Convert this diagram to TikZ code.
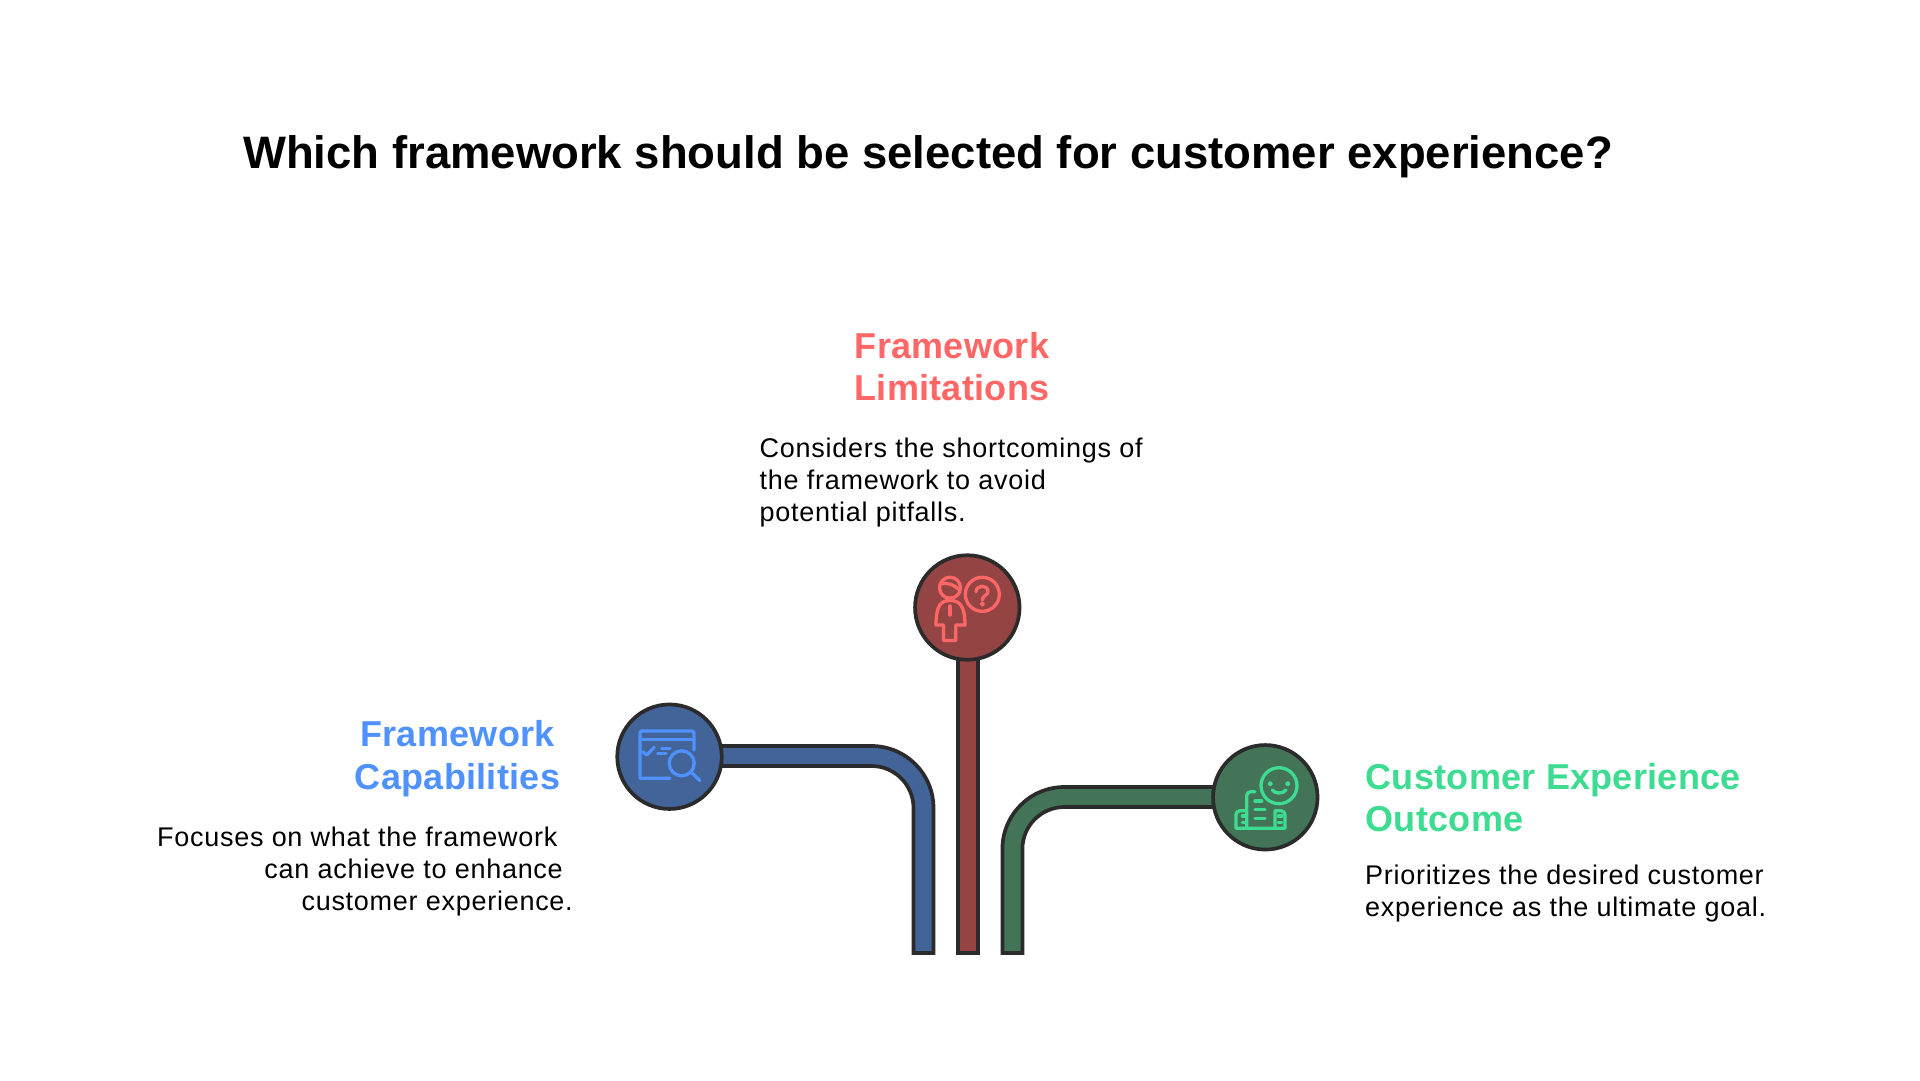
\documentclass[tikz,border=0pt]{standalone}
\usepackage{fontspec}
\setmainfont{Liberation Sans}
\definecolor{ink}{HTML}{2B2B2B}
\definecolor{bluefill}{HTML}{426499}
\definecolor{bluetxt}{HTML}{4F92FF}
\definecolor{redfill}{HTML}{944543}
\definecolor{redtxt}{HTML}{FF6666}
\definecolor{greenfill}{HTML}{437458}
\definecolor{greentxt}{HTML}{3DDC91}
\newfontfamily\spacedbody[LetterSpace=2.7]{Liberation Sans}
\newfontfamily\spacedhead[LetterSpace=0.8]{Liberation Sans Bold}
\newfontfamily\titlefont{Liberation Sans Bold}
\tikzset{
  x=1pt,y=-1pt,
  pipe/.style={line width=3.7pt,draw=ink,line join=miter},
  disc/.style={circle,draw=ink,line width=3.7pt,minimum size=104.5pt,inner sep=0pt},
  icon/.style={line width=3.3pt,line cap=round,line join=round},
  head/.style={font=\fontsize{36}{42.5}\selectfont\spacedhead,inner sep=0pt},
  body/.style={font=\fontsize{27}{32}\selectfont\spacedbody,inner sep=0pt,text=black},
  title/.style={font=\fontsize{45.48}{54}\selectfont\titlefont,inner sep=0pt,text=black}
}
\begin{document}
\begin{tikzpicture}
\useasboundingbox (0,0) rectangle (1920,1080);
\fill[white] (0,0) rectangle (1920,1080);
\node[title,anchor=base west] (ttl) at (243,168) {Which framework should be selected for customer experience?};
% pipes
\path[pipe,fill=bluefill] (669,746) -- (871.5,746) arc[start angle=-90,end angle=0,radius=62] -- (933.5,953) -- (913.5,953) -- (913.5,808) arc[start angle=0,end angle=-90,radius=42] -- (669,766);
\path[pipe,fill=redfill] (958,607) -- (958,953) -- (978,953) -- (978,607);
\path[pipe,fill=greenfill] (1265,787) -- (1064.4,787) arc[start angle=-90,end angle=-180,radius=62] -- (1002.4,953) -- (1022.4,953) -- (1022.4,849) arc[start angle=180,end angle=270,radius=42] -- (1265,807);
% discs
\node[disc,fill=bluefill] (blued) at (669.5,756.7) {};
\node[disc,fill=redfill] (redd) at (967.3,607.5) {};
\node[disc,fill=greenfill] (greend) at (1265.3,797.3) {};
% blue icon
\begin{scope}[icon,draw=bluetxt]
\draw (670,778.3) -- (640,778.3) -- (640,733) arc[start angle=180,end angle=270,radius=2] -- (692,731) arc[start angle=-90,end angle=0,radius=2] -- (694,750);
\draw (640,739.8) -- (694,739.8);
\draw (642.7,751.7) -- (646.7,755) -- (654.3,747.3);
\draw (661.7,748.3) -- (670,748.3) (657.7,753.3) -- (666,753.3);
\draw (681.7,763.3) circle[radius=12.5];
\draw (691.7,772.7) -- (700,780.7);
\end{scope}
% red icon
\begin{scope}[icon,draw=redtxt]
\draw (950,587.7) circle[radius=10.5];
\draw (940,584) .. controls (946,582) and (953,584) .. (959.8,590);
\draw (982.3,594.3) circle[radius=17];
\draw (976,591.7) .. controls (976,584.5) and (988,584.5) .. (988,591.5) .. controls (988,595.5) and (982.3,595.5) .. (982.3,600);
\draw[line width=2pt] (982.3,604) circle[radius=1.6];
\draw (950,600.5) .. controls (941,600.5) and (936,605) .. (936,625) -- (943.5,625) -- (943.5,640.5) -- (955.7,640.5) -- (955.7,625) -- (965,625) .. controls (965,605) and (959,600.5) .. (950,600.5) -- cycle;
\draw (950,606) -- (950,615);
\end{scope}
% green icon
\begin{scope}[icon,draw=greentxt]
\draw (1279,785.7) circle[radius=18];
\draw (1272.3,790) .. controls (1275,794) and (1283,794) .. (1286,790);
\draw[line width=2pt] (1270.3,783.7) circle[radius=1.7] (1287.7,783.7) circle[radius=1.7];
\draw (1255,791.7) -- (1250.7,791.7) arc[start angle=-90,end angle=-180,radius=4] -- (1246.7,828.3);
\draw (1246.7,810.7) -- (1240,810.7) arc[start angle=-90,end angle=-180,radius=4] -- (1236,828.3) -- (1285,828.3) -- (1285,814.7) arc[start angle=0,end angle=-90,radius=4] -- (1275,810.7) -- (1275,828.3);
\draw (1255,801) -- (1261.7,801) (1255,809.3) -- (1265,809.3) (1255,818.3) -- (1265,818.3);
\draw (1242.3,816) -- (1245,816) (1242.3,822.7) -- (1245,822.7) (1278.3,816) -- (1281.7,816) (1278.3,822.7) -- (1281.7,822.7);
\end{scope}
% texts
\node[head,text=redtxt,align=center,anchor=north] (redh) at (952,331.8) {Framework\\Limitations};
\node[body,align=left,anchor=north west] (redb) at (759.5,437.6) {Considers the shortcomings of\\the framework to avoid\\potential pitfalls.};
\node[head,text=bluetxt,align=center,anchor=north] (blueh) at (457.5,720.3) {Framework\\Capabilities};
\node[body,align=right,anchor=north east] (blueb) at (573,827) {Focuses on what the framework\rule{15.5pt}{0pt}\\can achieve to enhance\rule{10pt}{0pt}\\customer experience.};
\node[head,text=greentxt,align=left,anchor=north west] (greenh) at (1365.5,763) {Customer Experience\\Outcome};
\node[body,align=left,anchor=north west] (greenb) at (1365,864.5) {Prioritizes the desired customer\\experience as the ultimate goal.};
\end{tikzpicture}
\end{document}
